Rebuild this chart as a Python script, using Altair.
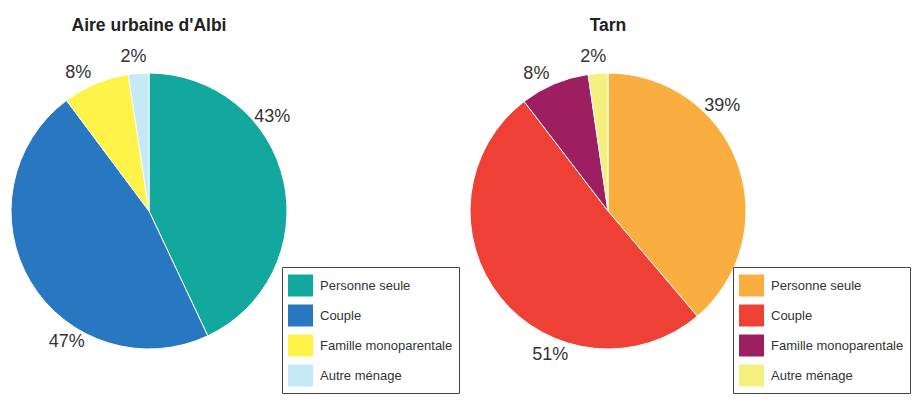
import altair as alt
import pandas as pd

categories = ["Personne seule", "Couple", "Famille monoparentale", "Autre ménage"]
albi_values = [43.0, 46.8, 7.8, 2.4]
tarn_values = [38.8, 50.8, 8.1, 2.3]
albi_colors = ["#13a89e", "#2878c1", "#fff34a", "#c6e9f8"]
tarn_colors = ["#fbae40", "#ef4035", "#9e1f61", "#f4ef7f"]
titles = ["Aire urbaine d'Albi", "Tarn"]

FONT = "Liberation Sans"
CX, CY = 141, 173
R = 138
LABEL_FRAC = 0.34  # where along each slice the outside label sits

RECT = "M-1,-0.88L1,-0.88L1,0.88L-1,0.88Z"


def pie(values, colors, title, pw, legend_x):
    df = pd.DataFrame({
        "cat": categories,
        "val": values,
        "order": list(range(len(categories))),
        "label": [f"{round(v)}%" for v in values],
    })
    arcs = alt.Chart(df).mark_arc(outerRadius=R, stroke="white", strokeWidth=1).encode(
        theta=alt.Theta("val:Q", stack=True),
        order=alt.Order("order:Q"),
        x=alt.value(CX),
        y=alt.value(CY),
        color=alt.Color(
            "cat:N",
            sort=categories,
            scale=alt.Scale(domain=categories, range=colors),
            legend=alt.Legend(
                title=None,
                orient="none",
                legendX=legend_x,
                legendY=229,
                strokeColor="#444",
                padding=6,
                symbolType=RECT,
                symbolSize=625,
                symbolStrokeWidth=0,
                symbolOpacity=1,
                rowPadding=6,
                labelFontSize=13,
                labelFont=FONT,
                labelColor="#333",
                labelOffset=7,
                labelLimit=300,
            ),
        ),
    )
    labels = (
        alt.Chart(df)
        .transform_window(cum="sum(val)", sort=[alt.SortField("order")], frame=[None, 0])
        .transform_calculate(lt=f"datum.cum - datum.val + {LABEL_FRAC} * datum.val")
        .mark_text(radius=R + 17, fontSize=18, font=FONT, color="#333")
        .encode(
            theta=alt.Theta("lt:Q", stack=None),
            x=alt.value(CX),
            y=alt.value(CY),
            text="label:N",
        )
    )
    return alt.layer(arcs, labels).properties(
        width=pw,
        height=355,
        title=alt.TitleParams(
            title,
            fontSize=17.5,
            fontWeight="bold",
            font=FONT,
            color="#222",
            anchor="middle",
            dx=CX - pw / 2,
            offset=4,
        ),
    )


chart = (
    alt.hconcat(
        pie(albi_values, albi_colors, titles[0], 459, 274),
        pie(tarn_values, tarn_colors, titles[1], 444, 266),
        spacing=0,
    )
    .resolve_scale(color="independent", theta="independent")
    .properties(padding={"top": 8, "left": 0, "right": 0, "bottom": 0})
    .configure_view(stroke=None)
)

chart.save("out.html", embed_options={"renderer": "svg", "actions": False})
